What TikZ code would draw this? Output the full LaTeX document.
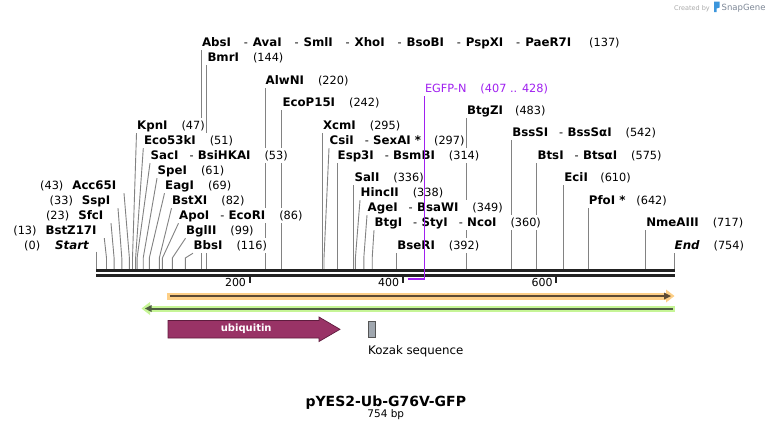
\documentclass[tikz,border=0pt]{standalone}
\usepackage{fontspec}
\setmainfont{DejaVu Sans}
\usetikzlibrary{calc}
\definecolor{linegray}{RGB}{130,130,130}
\definecolor{rulerblack}{RGB}{34,34,34}
\definecolor{egfpcol}{RGB}{160,32,240}
\definecolor{orgband}{RGB}{253,207,135}
\definecolor{orgline}{RGB}{92,74,52}
\definecolor{grnband}{RGB}{198,245,150}
\definecolor{grnline}{RGB}{78,92,66}
\definecolor{ubqcol}{RGB}{153,51,102}
\definecolor{ubqedge}{RGB}{95,28,62}
\definecolor{kozcol}{RGB}{160,167,175}
\definecolor{kozedge}{RGB}{85,85,85}
\definecolor{wmgray}{RGB}{170,170,170}
\definecolor{wmtext}{RGB}{125,135,150}
\definecolor{wmblue}{RGB}{60,150,220}
\newcommand\enz[1]{{\fontsize{11.8}{13}\selectfont\bfseries #1}}
\newcommand\dsh{\hspace{11pt}-\hspace{4.3pt}}
\newcommand\dshw{\hspace{12.8pt}-\hspace{5pt}}
\newcommand\numgap{\hspace{14pt}}
\pgfdeclarelayer{bg}
\pgfdeclarelayer{lines}
\pgfsetlayers{bg,lines,main}
\begin{document}
\begin{tikzpicture}[x=1pt,y=-1pt,
  lab/.style={font=\fontsize{11.3}{13}\selectfont, inner xsep=0.5pt, inner ysep=1.5pt,
              text height=9.5pt, text depth=2.5pt, fill=white},
  siteline/.style={draw=linegray, line width=0.9pt},
  numlab/.style={font=\fontsize{11}{13}\selectfont, inner sep=0pt}]
\useasboundingbox (0,0) rectangle (771,432);
\begin{pgfonlayer}{bg}
\fill[white] (0,0) rectangle (771,432);
\end{pgfonlayer}
\coordinate (rt) at (0,269);

% ---------- top group labels ----------
\node[lab,anchor=base west] (abs) at (201.4,46) {\enz{AbsI}\dshw\enz{AvaI}\dshw\enz{SmlI}\dshw\enz{XhoI}\dshw\enz{BsoBI}\dshw\enz{PspXI}\dshw\enz{PaeR7I}\hspace{18pt}(137)};
\node[lab,anchor=base west] (bmr) at (206.8,61) {\enz{BmrI}\numgap(144)};
\node[lab,anchor=base west] (alw) at (265,84) {\enz{AlwNI}\numgap(220)};
\node[lab,anchor=base west] (ecop) at (281.8,106) {\enz{EcoP15I}\numgap(242)};
\node[lab,anchor=base west] (xcm) at (322.4,129) {\enz{XcmI}\numgap(295)};
\node[lab,anchor=base west] (csi) at (329,144) {\enz{CsiI}\dsh\enz{SexAI *}\hspace{13pt}(297)};
\node[lab,anchor=base west] (esp) at (337,159) {\enz{Esp3I}\dsh\enz{BsmBI}\numgap(314)};
\node[lab,anchor=base west] (sal) at (353.8,181) {\enz{SalI}\numgap(336)};
\node[lab,anchor=base west] (hinc) at (360,196) {\enz{HincII}\numgap(338)};
\node[lab,anchor=base west] (age) at (367,211) {\enz{AgeI}\dsh\enz{BsaWI}\numgap(349)};
\node[lab,anchor=base west] (btg) at (374,226) {\enz{BtgI}\dsh\enz{StyI}\dsh\enz{NcoI}\numgap(360)};
\node[lab,anchor=base west] (bse) at (396.7,249) {\enz{BseRI}\numgap(392)};
\node[lab,anchor=base west,text=egfpcol] (egfp) at (424.3,92) {EGFP-N\numgap(407 .. 428)};
\node[lab,anchor=base west] (btgz) at (466.4,114) {\enz{BtgZI}\hspace{12pt}(483)};
\node[lab,anchor=base west] (bss) at (511.6,136) {\enz{BssSI}\dsh\enz{BssSαI}\numgap(542)};
\node[lab,anchor=base west] (bts) at (536.9,159) {\enz{BtsI}\dsh\enz{BtsαI}\numgap(575)};
\node[lab,anchor=base west] (eci) at (563.7,181) {\enz{EciI}\hspace{12.5pt}(610)};
\node[lab,anchor=base west] (pfo) at (588.2,204) {\enz{PfoI *}\hspace{11pt}(642)};
\node[lab,anchor=base west] (nme) at (645.6,226) {\enz{NmeAIII}\numgap(717)};
\node[lab,anchor=base west] (endl) at (674,249) {\enz{\itshape End}\numgap(754)};

% ---------- left group (left aligned) ----------
\node[lab,anchor=base west] (kpn) at (136.5,129) {\enz{KpnI}\numgap(47)};
\node[lab,anchor=base west] (eco53) at (143.3,144) {\enz{Eco53kI}\numgap(51)};
\node[lab,anchor=base west] (sac) at (150,159) {\enz{SacI}\dsh\enz{BsiHKAI}\numgap(53)};
\node[lab,anchor=base west] (spe) at (157,174) {\enz{SpeI}\numgap(61)};
\node[lab,anchor=base west] (eag) at (164.5,189) {\enz{EagI}\numgap(69)};
\node[lab,anchor=base west] (bstx) at (171.5,204) {\enz{BstXI}\numgap(82)};
\node[lab,anchor=base west] (apo) at (178.5,219) {\enz{ApoI}\dsh\enz{EcoRI}\numgap(86)};
\node[lab,anchor=base west] (bgl) at (185.5,234) {\enz{BglII}\numgap(99)};
\node[lab,anchor=base west] (bbs) at (193,249) {\enz{BbsI}\numgap(116)};

% ---------- left group (right aligned) ----------
\node[lab,anchor=base east] (acc) at (117,189) {(43)\hspace{9pt}\enz{Acc65I}};
\node[lab,anchor=base east] (ssp) at (111,204) {(33)\hspace{9pt}\enz{SspI}};
\node[lab,anchor=base east] (sfc) at (104,219) {(23)\hspace{9pt}\enz{SfcI}};
\node[lab,anchor=base east] (bstz) at (97.3,234) {(13)\hspace{9pt}\enz{BstZ17I}};
\node[lab,anchor=base east] (startl) at (89.5,249) {(0)\hspace{15pt}\enz{\itshape Start}};

% ---------- site lines ----------
\begin{pgfonlayer}{lines}
\foreach \n in {abs,bmr,alw,ecop,xcm,esp,sal,bse,btgz,bss,bts,eci,pfo,nme,endl}
  \draw[siteline] (\n.south west) -- (\n.south west |- rt);
\foreach \n/\s in {csi/324.0,hinc/355.4,age/363.8,btg/372.2,
                   kpn/132.5,eco53/135.6,sac/137.1,spe/143.2,eag/149.3,
                   bstx/159.3,apo/162.4,bgl/172.3,bbs/185.3}{
  \coordinate (k\n) at (\s,258);
  \draw[siteline] (\n.south west) -- (k\n) -- (k\n |- rt);}
\foreach \n/\s in {acc/129.4,ssp/121.8,sfc/114.1,bstz/106.5}{
  \coordinate (k\n) at (\s,258);
  \draw[siteline] ([xshift=7pt]\n.south east) -- (k\n) -- (k\n |- rt);}
\coordinate (s0) at (96.5,251.5);
\draw[siteline] (s0) -- (s0 |- rt);
\end{pgfonlayer}

% ---------- ruler ----------
\draw[rulerblack,line width=3pt] (96,270.5) -- (674.5,270.5);
\draw[rulerblack,line width=3pt] (96,275.2) -- (674.5,275.2);
\foreach \t/\x in {200/249.7,400/402.9,600/556.2}{
  \draw[rulerblack,line width=1.8pt] (\x,276.5) -- (\x,282.5);
  \node[numlab,anchor=base east] (t\t) at ($(\x,286)+(-3.5,0)$) {\t};}

% ---------- EGFP-N ----------
\coordinate (eg1) at (424.3,279.3);
\coordinate (eg0) at (407.5,279.3);
\draw[egfpcol,line width=1pt] (egfp.south west) -- ($(eg1)+(0,1)$);
\draw[egfpcol,line width=2pt] (eg0) -- ($(eg1)+(0.5,0)$);

% ---------- ORF arrows ----------
\fill[orgband] (166.7,292.5) rectangle (667,299.5);
\fill[orgband] (666,289.5) -- (674.5,296) -- (666,302.5) -- cycle;
\draw[orgline,line width=2pt] (169.5,296) -- (665,296);
\fill[orgline] (664,292.5) -- (671,296) -- (664,299.5) -- cycle;

\fill[grnband] (149,305.5) rectangle (674.5,311.5);
\fill[grnband] (150,302) -- (141.5,308.5) -- (150,315) -- cycle;
\draw[grnline,line width=2pt] (150,308.5) -- (672.5,308.5);
\fill[grnline] (151.5,305) -- (145,308.5) -- (151.5,312) -- cycle;

% ---------- features ----------
\draw[fill=ubqcol,draw=ubqedge,line width=0.7pt]
  (168,320.5) -- (319,320.5) -- (319,317) -- (340,329.3) -- (319,341.5) -- (319,338) -- (168,338) -- cycle;
\node[text=white,font=\bfseries\fontsize{10}{12}\selectfont,anchor=base,inner sep=0pt] (ubqlab) at (246.2,331.5) {ubiquitin};
\draw[fill=kozcol,draw=kozedge,line width=0.6pt] (368.3,321.3) rectangle (375.3,337.3);
\node[font=\fontsize{11.8}{13}\selectfont,anchor=base west,inner sep=0pt] (kozlab) at (368,354.5) {Kozak sequence};

% ---------- title ----------
\node[font=\bfseries\fontsize{14}{16}\selectfont,anchor=base,inner sep=0pt] (title) at (385.8,406) {pYES2-Ub-G76V-GFP};
\node[font=\fontsize{10.5}{12}\selectfont,anchor=base,inner sep=0pt] (len) at (385.8,417) {754 bp};

% ---------- watermark ----------
\node[text=wmgray,font=\fontsize{6.5}{8}\selectfont,anchor=base east,inner sep=0pt] (wm1) at (710,10) {Created by};
\fill[wmblue] (714,1.5) -- (719.5,1.5) -- (719.5,7.5) -- (716.5,8.5) -- (716.5,12) -- (714,12) -- cycle;
\node[text=wmtext,font=\fontsize{8.5}{10}\selectfont,anchor=base west,inner sep=0pt] (wm2) at (721.5,10.5) {SnapGene};
\end{tikzpicture}
\end{document}
